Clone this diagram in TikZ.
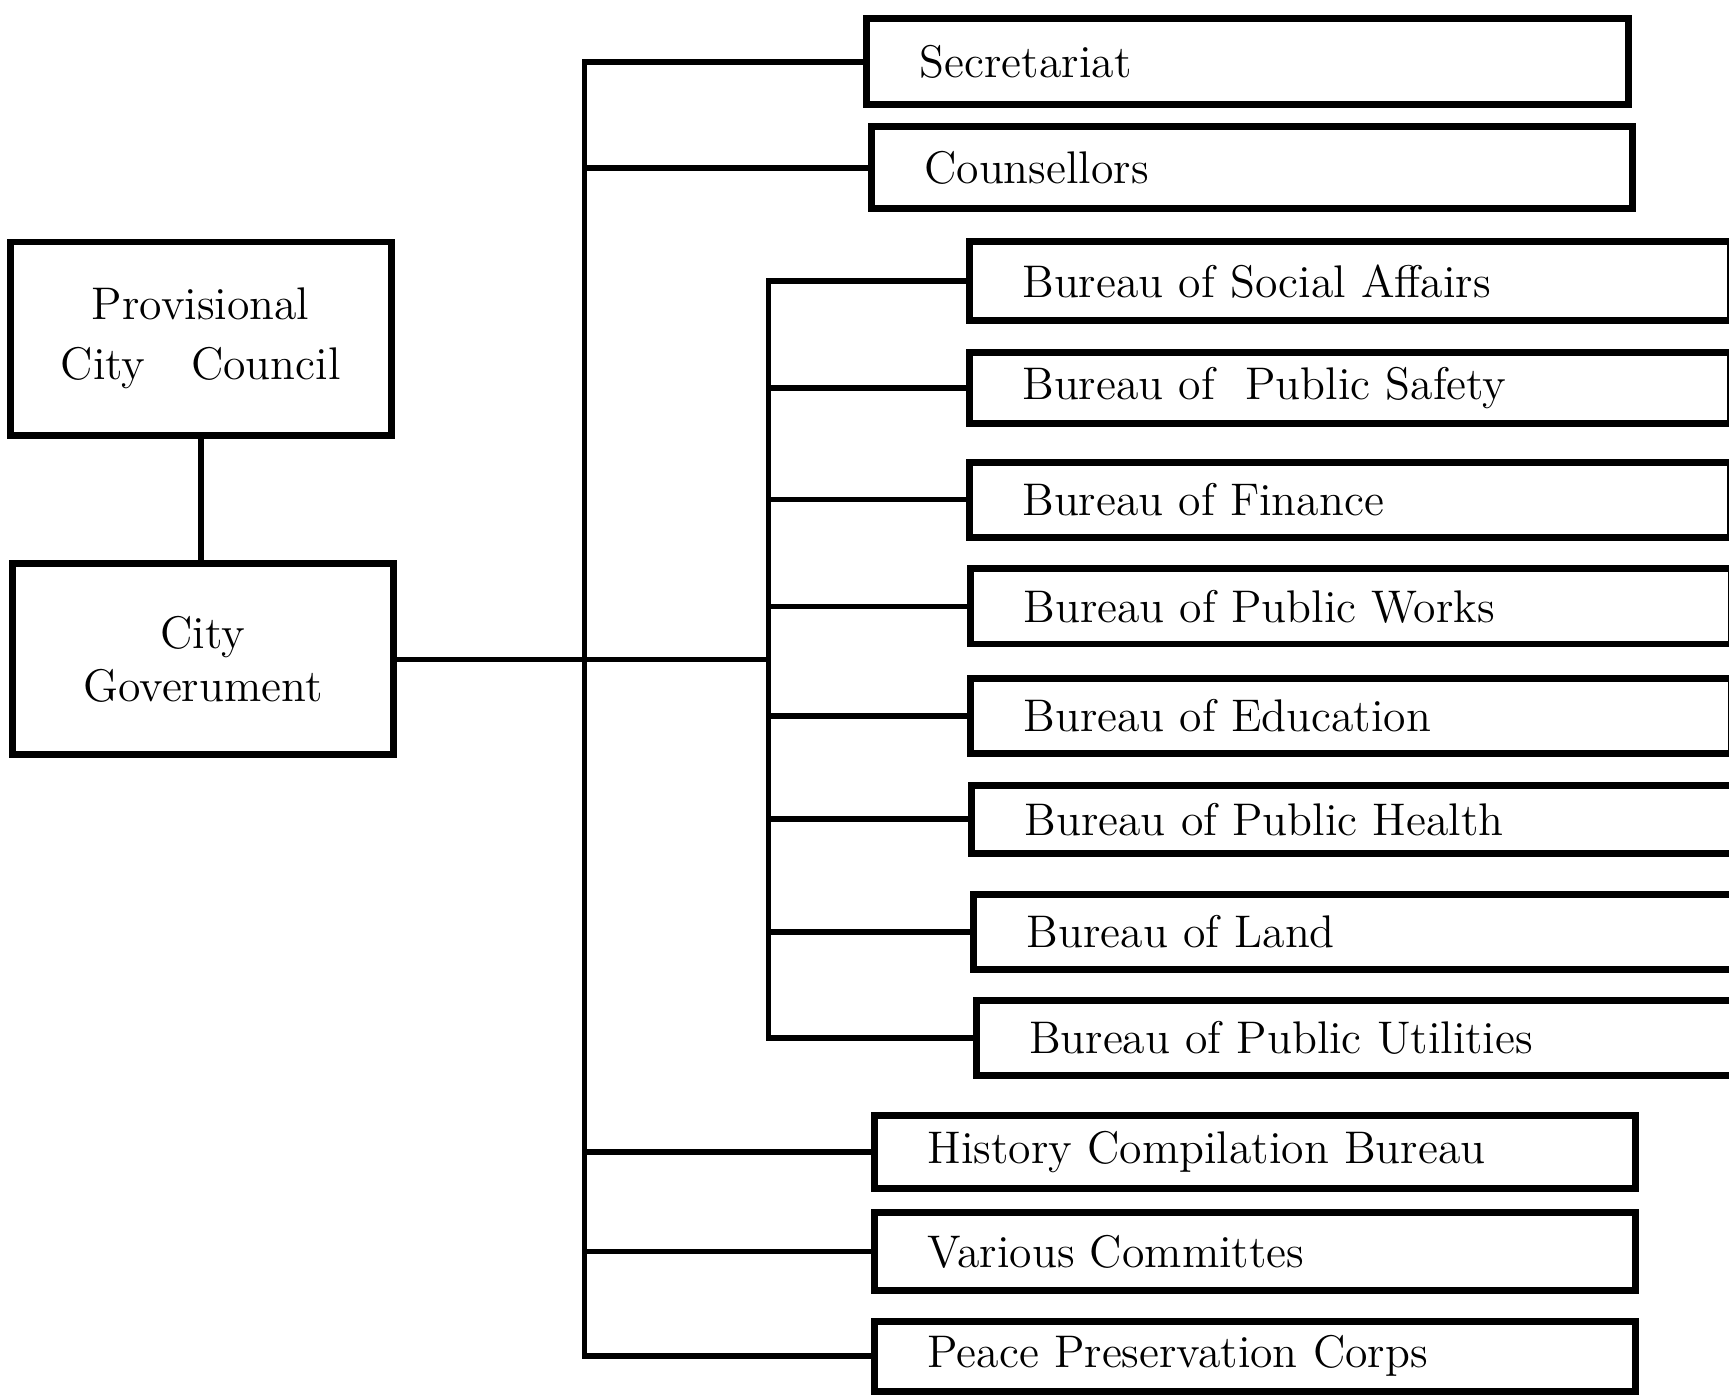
\documentclass[tikz,border=0pt]{standalone}
\begin{document}
\begin{tikzpicture}[x=0.01cm,y=-0.01cm,
    box/.style={draw,rectangle,line width=1.8pt,inner ysep=0pt,font=\fontsize{11.8}{14.5}\selectfont},
    unit/.style={box,anchor=west,minimum height=0.68cm,minimum width=6.90cm,text width=5.94cm,align=left,inner xsep=0.48cm},
    link/.style={line width=1.5pt}]
    \useasboundingbox (0,0) rectangle (1568,1265);
    % left column
    \node[box,minimum width=3.45cm,minimum height=1.75cm,align=center] (council) at (182,307) {Provisional\\[1pt]City\quad Council};
    \node[box,minimum width=3.45cm,minimum height=1.73cm,align=center] (citygov) at (184,598) {City\\[-1pt]Goverument};
    % offices on the outer line
    \node[unit,minimum height=0.78cm] (sec) at (783,56) {Secretariat};
    \node[unit,minimum height=0.74cm] (couns) at (787,152) {Counsellors};
    % bureaus
    \node[unit,minimum height=0.72cm] (social) at (876,255) {Bureau of Social Affairs};
    \node[unit,minimum height=0.64cm] (safety) at (876,352) {Bureau of\ \ Public Safety};
    \node[unit] (finance) at (876,453) {Bureau of Finance};
    \node[unit] (works) at (877,550) {Bureau of Public Works};
    \node[unit] (edu) at (877,649) {Bureau of Education};
    \node[unit,minimum height=0.62cm] (health) at (878,743) {Bureau of Public Health};
    \node[unit] (land) at (880,845) {Bureau of Land};
    \node[unit] (util) at (882,941) {Bureau of Public Utilities};
    % lower offices
    \node[unit,minimum height=0.66cm,inner xsep=0.42cm] (hist) at (790,1045) {History Compilation Bureau};
    \node[unit,minimum height=0.70cm,inner xsep=0.44cm] (various) at (790,1135) {Various Committes};
    \node[unit,minimum height=0.64cm,inner xsep=0.44cm] (peace) at (790,1230) {Peace Preservation Corps};
    \coordinate (obot) at (530,1230);
    \coordinate (ibot) at (697,941);
    % connectors
    \draw[link] (council.south) -- (council.south |- citygov.north);
    \draw[link] (citygov.east) -- (citygov.east -| ibot);
    \draw[link] (sec.west) -| (obot) -- (peace.west);
    \draw[link] (couns.west) -- (couns.west -| obot);
    \draw[link] (hist.west) -- (hist.west -| obot);
    \draw[link] (various.west) -- (various.west -| obot);
    \draw[link] (social.west) -| (ibot) -- (util.west);
    \draw[link] (safety.west) -- (safety.west -| ibot);
    \draw[link] (finance.west) -- (finance.west -| ibot);
    \draw[link] (works.west) -- (works.west -| ibot);
    \draw[link] (edu.west) -- (edu.west -| ibot);
    \draw[link] (health.west) -- (health.west -| ibot);
    \draw[link] (land.west) -- (land.west -| ibot);
\end{tikzpicture}
\end{document}
